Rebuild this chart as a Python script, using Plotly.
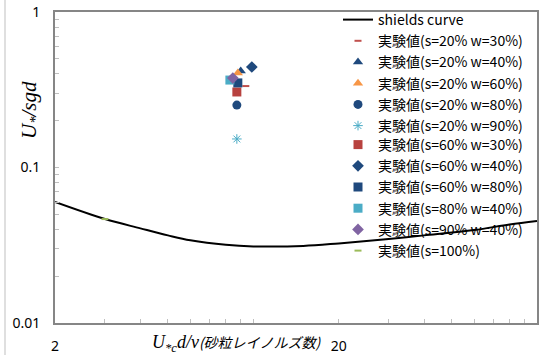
import plotly.graph_objects as go

# Shields curve
shields_x = [2, 3, 4, 5, 6, 8, 10, 15, 20, 30, 40, 60, 80, 100]
shields_y = [0.0600, 0.0466, 0.0406, 0.0366, 0.0340, 0.0318, 0.0311,
             0.0313, 0.0325, 0.0347, 0.0366, 0.0396, 0.0430, 0.0453]

# Experimental values
series_names = [
    "実験値(s=20% w=30%)", "実験値(s=20% w=40%)", "実験値(s=20% w=60%)",
    "実験値(s=20% w=80%)", "実験値(s=20% w=90%)", "実験値(s=60% w=30%)",
    "実験値(s=60% w=40%)", "実験値(s=60% w=80%)", "実験値(s=80% w=40%)",
    "実験値(s=90% w=40%)", "実験値(s=100%)",
]
series_x = [9.41, 9.03, 8.82, 8.75, 8.75, 8.75, 9.88, 8.82, 8.27, 8.47, 3.0]
series_y = [0.334, 0.417, 0.405, 0.252, 0.1526, 0.306, 0.443, 0.350, 0.365, 0.376, 0.0466]

y_tickvals = [0.01, 0.02, 0.03, 0.04, 0.05, 0.06, 0.07, 0.08, 0.09,
              0.1, 0.2, 0.3, 0.4, 0.5, 0.6, 0.7, 0.8, 0.9, 1]
y_ticktext = ["0.01"] + [" "] * 8 + ["0.1"] + [" "] * 8 + ["1"]
x_tickvals = [2, 3, 4, 5, 6, 7, 8, 9, 10, 20, 30, 40, 50, 60, 70, 80, 90, 100]
x_ticktext = ["2"] + [" "] * 8 + ["20"] + [" "] * 8

NAVY = "#1F497D"
styles = [
    dict(symbol="line-ew", color="#C0504D", size=5, line=dict(color="#C0504D", width=2)),
    dict(symbol="triangle-up", color=NAVY, size=9),
    dict(symbol="triangle-up", color="#F79646", size=9),
    dict(symbol="circle", color=NAVY, size=9),
    dict(symbol="asterisk-open", color="#4BACC6", size=8, line=dict(color="#4BACC6", width=1)),
    dict(symbol="square", color="#B8423F", size=9),
    dict(symbol="diamond", color=NAVY, size=9),
    dict(symbol="square", color=NAVY, size=9),
    dict(symbol="square", color="#4BACC6", size=9),
    dict(symbol="diamond", color="#8064A2", size=9),
    dict(symbol="line-ew", color="#9BBB59", size=5, line=dict(color="#9BBB59", width=2)),
]

fig = go.Figure()
fig.add_trace(go.Scatter(
    x=shields_x, y=shields_y, mode="lines", name="shields curve",
    line=dict(color="black", width=2, shape="spline"), legend="legend",
))
# the legend is split into two blocks stacked one above the other
for i, (name, xv, yv, st) in enumerate(zip(series_names, series_x, series_y, styles)):
    fig.add_trace(go.Scatter(
        x=[xv], y=[yv], mode="markers", name=name, marker=st,
        legend="legend" if i < 5 else "legend2",
    ))

axis_common = dict(
    showgrid=False, zeroline=False, showline=True, mirror=True,
    linecolor="#868686", linewidth=2,
    ticks="inside", ticklen=4, tickcolor="#bfbfbf",
    tickfont=dict(family="Noto Sans, sans-serif", size=14, color="black"),
    tickmode="array", automargin=False,
)

fig.update_xaxes(type="log", range=[0.30103, 2], tickvals=x_tickvals, ticktext=x_ticktext,
                 ticklabelstandoff=9, **axis_common)
fig.update_yaxes(type="log", range=[-2, 0], tickvals=y_tickvals, ticktext=y_ticktext,
                 ticklabelstandoff=10, **axis_common)


def px_x(p):
    return (p - 55) / (537 - 55)


def px_y(p):
    return (323 - p) / (323 - 12)


legend_font = dict(family="Noto Sans CJK JP, sans-serif", size=14, color="black")

fig.update_layout(
    width=548, height=355,
    margin=dict(l=55, r=11, t=12, b=32, autoexpand=False),
    paper_bgcolor="white", plot_bgcolor="white",
    showlegend=True,
    legend=dict(
        x=px_x(338), y=1 - 4 / 355, xanchor="left", yanchor="top", yref="container",
        bgcolor="rgba(0,0,0,0)", borderwidth=0, font=legend_font, itemwidth=30,
    ),
    legend2=dict(
        x=px_x(338), y=px_y(129), xanchor="left", yanchor="top",
        bgcolor="rgba(0,0,0,0)", borderwidth=0, font=legend_font, itemwidth=30,
    ),
    annotations=[
        dict(
            text="<i>U<sub>*</sub>/sgd</i>", textangle=-90,
            xref="paper", yref="paper",
            x=px_x(30), y=px_y(110),
            xanchor="center", yanchor="middle", showarrow=False,
            font=dict(family="Liberation Serif, serif", size=21, color="black"),
        ),
        dict(
            text="<i>U<sub>*c</sub>d/ν<span style='font-family:Noto Sans CJK JP;font-size:14px'>(砂粒レイノルズ数)</span></i>",
            xref="paper", yref="paper",
            x=px_x(237), y=px_y(343),
            xanchor="center", yanchor="middle", showarrow=False,
            font=dict(family="Liberation Serif, serif", size=18, color="black"),
        ),
    ],
    shapes=[
        dict(type="line", xref="paper", yref="paper",
             x0=px_x(5), x1=px_x(5), y0=px_y(0), y1=px_y(355),
             line=dict(color="#bfbfbf", width=1)),
    ],
)

fig.write_html("out.html")
